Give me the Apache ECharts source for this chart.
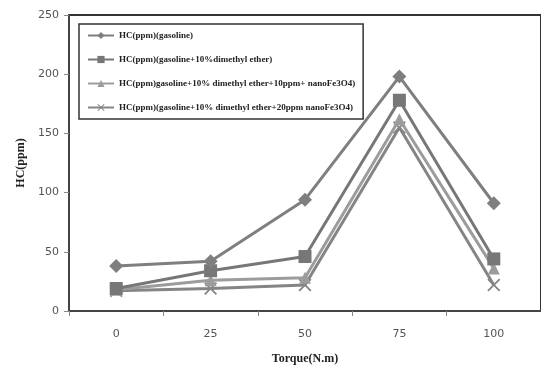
<!DOCTYPE html>
<html lang="en">
<head>
<meta charset="UTF-8">
<title>HC vs Torque</title>
<script src="https://cdn.jsdelivr.net/npm/echarts@6.0.0/dist/echarts.min.js"></script>
<style>
    body, html { margin: 0; padding: 0; background: #fff; }
    #chart { width: 541px; height: 370px; }
</style>
</head>
<body>
<div id="chart"></div>
<script>
    // data
    var torque = ['0', '25', '50', '75', '100'];
    var seriesNames = [
        'HC(ppm)(gasoline)',
        'HC(ppm)(gasoline+10%dimethyl ether)',
        'HC(ppm)gasoline+10% dimethyl ether+10ppm+ nanoFe3O4)',
        'HC(ppm)(gasoline+10% dimethyl ether+20ppm nanoFe3O4)'
    ];
    var gasoline = [38, 42, 94, 198, 91];
    var dme10 = [19, 34, 46, 178, 44];
    var nano10 = [18, 26, 28, 162, 36];
    var nano20 = [17, 19, 22, 155, 22];

    var crossPath = 'path://M0,1L1,0L5,4L9,0L10,1L6,5L10,9L9,10L5,6L1,10L0,9L4,5Z';

    var styles = [
        { symbol: 'diamond', size: 14, color: '#7f7f7f' },
        { symbol: 'rect', size: 13, color: '#777777' },
        { symbol: 'triangle', size: 12, color: '#9c9c9c' },
        { symbol: crossPath, size: 13, color: '#858585' }
    ];
    var values = [gasoline, dme10, nano10, nano20];

    var series = values.map(function (v, i) {
        return {
            name: seriesNames[i],
            type: 'line',
            data: v,
            symbol: styles[i].symbol,
            symbolSize: styles[i].size,
            lineStyle: { color: styles[i].color, width: 3 },
            itemStyle: { color: styles[i].color },
            z: 10 - i
        };
    });

    var chart = echarts.init(document.getElementById('chart'));
    chart.setOption({
        backgroundColor: '#fff',
        animation: false,
        grid: {
            left: 69, right: -6, top: 15, bottom: 59,
            show: true, borderColor: '#333', borderWidth: 2, backgroundColor: 'transparent'
        },
        legend: {
            orient: 'vertical',
            left: 79, top: 24,
            padding: [7, 8, 7, 8],
            itemGap: 15,
            itemWidth: 26, itemHeight: 9,
            borderColor: '#333', borderWidth: 1.5,
            backgroundColor: '#fff',
            textStyle: { fontFamily: 'Liberation Serif', fontSize: 9, fontWeight: 'bold', color: '#222' },
            data: seriesNames
        },
        xAxis: {
            type: 'category',
            data: torque,
            boundaryGap: true,
            name: 'Torque(N.m)',
            nameLocation: 'middle',
            nameGap: 42,
            nameTextStyle: { fontFamily: 'Liberation Serif', fontSize: 12, fontWeight: 'bold', color: '#222' },
            axisLine: { lineStyle: { color: '#444', width: 2 } },
            axisTick: { show: true, alignWithLabel: false, length: 5, lineStyle: { color: '#888' } },
            axisLabel: { fontFamily: 'DejaVu Sans', fontSize: 11, color: '#555', margin: 18 }
        },
        yAxis: {
            type: 'value',
            min: 0, max: 250, interval: 50,
            name: 'HC(ppm)',
            nameLocation: 'middle',
            nameGap: 36,
            nameTextStyle: { fontFamily: 'Liberation Serif', fontSize: 12, fontWeight: 'bold', color: '#222' },
            axisLine: { show: true, lineStyle: { color: '#444', width: 2 } },
            axisTick: { show: true, inside: false, length: 5, lineStyle: { color: '#888' } },
            axisLabel: { fontFamily: 'DejaVu Sans', fontSize: 11, color: '#555', margin: 10 },
            splitLine: { show: false }
        },
        series: series
    });
</script>
</body>
</html>
